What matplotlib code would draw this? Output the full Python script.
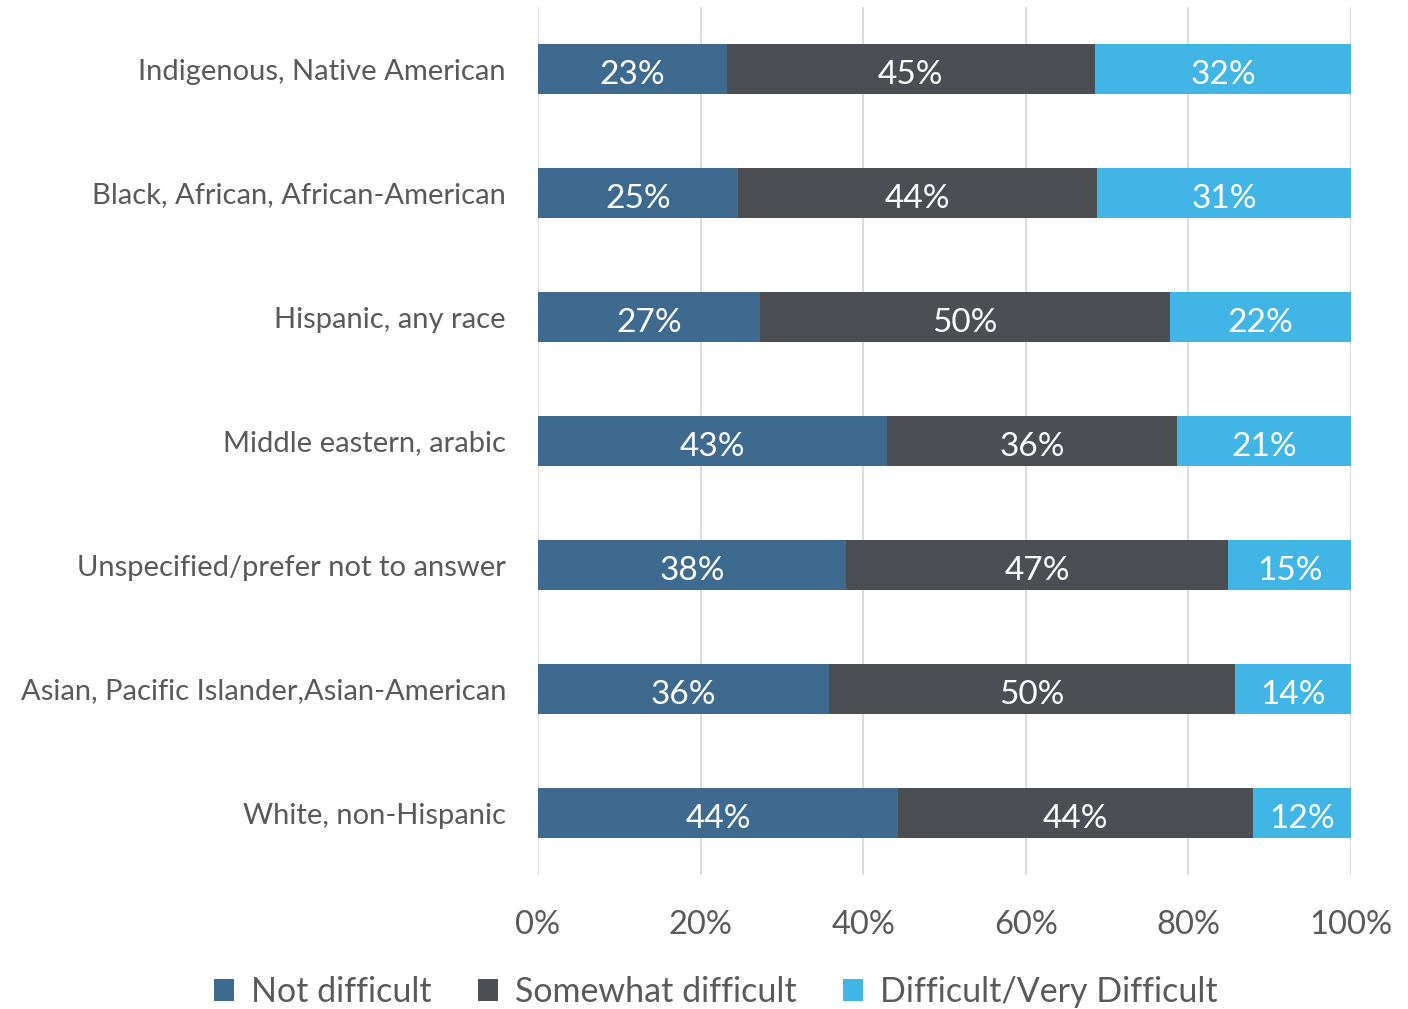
import numpy as np
import matplotlib.pyplot as plt

# Data (percent of respondents)
groups = ['Indigenous, Native American',
          'Black, African, African-American',
          'Hispanic, any race',
          'Middle eastern, arabic',
          'Unspecified/prefer not to answer',
          'Asian, Pacific Islander,Asian-American',
          'White, non-Hispanic']
not_difficult = [23.2, 24.6, 27.3, 42.9, 37.9, 35.8, 44.3]
somewhat = [45.3, 44.2, 50.4, 35.7, 47.0, 49.9, 43.6]
very_difficult = [31.5, 31.2, 22.3, 21.4, 15.1, 14.3, 12.1]
series_names = ['Not difficult', 'Somewhat difficult', 'Difficult/Very Difficult']

colors = ['#3E6A8F', '#4B4E53', '#41B6E6']
text_col = '#595959'

plt.rcParams['font.family'] = ['Lato', 'DejaVu Sans']

fig = plt.figure(figsize=(14.08, 10.09), dpi=100)
ax = fig.add_axes([538 / 1408, 1 - 875 / 1009, 813 / 1408, 868 / 1009])

y = np.arange(len(groups))
left = np.zeros(len(groups))
for vals, name, c in zip([not_difficult, somewhat, very_difficult], series_names, colors):
    vals = np.array(vals)
    ax.barh(y, vals, left=left, height=0.4, color=c, label=name, zorder=3)
    for yi, l, v in zip(y, left, vals):
        ax.text(l + v / 2, yi + 0.05, '%d%%' % round(v), ha='center', va='center',
                color='white', fontsize=24, zorder=4)
    left = left + vals

ax.set_xlim(0, 100)
ax.set_ylim(6.5, -0.5)
ax.set_yticks(y)
ax.set_yticklabels(groups, fontsize=21, color=text_col)
ax.set_xticks(np.arange(0, 101, 20))
ax.set_xticklabels(['%d%%' % v for v in range(0, 101, 20)], fontsize=23.5, color=text_col)
ax.tick_params(axis='x', length=0, pad=25)
ax.tick_params(axis='y', length=0, pad=23)
ax.grid(axis='x', color='#D9D9D9', linewidth=1.3, zorder=0)
for s in ax.spines.values():
    s.set_visible(False)

fig.legend(loc='center', bbox_to_anchor=(716 / 1408, 1 - 992 / 1009), ncol=3,
           frameon=False, fontsize=24.5, handlelength=0.6, handleheight=0.6,
           handletextpad=0.5, columnspacing=1.35, labelcolor=text_col)

fig.savefig('out.png', dpi=100)
